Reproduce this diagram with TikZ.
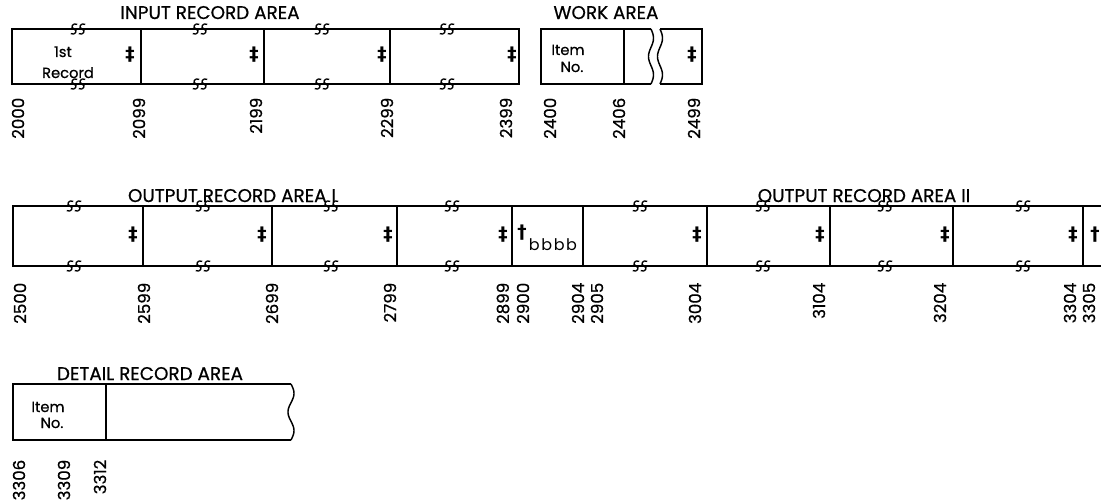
\documentclass[tikz,border=0pt]{standalone}
\usepackage{fontspec}
\setmainfont{Poppins}
\newfontfamily\medf{Poppins}[FakeBold=0.6]
\newfontfamily\symf{DejaVu Sans}
\tikzset{
  brkmark/.pic={
    \foreach \o in {-4,4}
      \draw[line width=1pt] (\o+3.2,-4.6) .. controls (\o-0.8,-6.8) and (\o-4.5,-1.5) .. (\o,0)
                             .. controls (\o+4.5,1.5) and (\o+0.8,6.8) .. (\o-3.2,4.6);
  }
}
\begin{document}
\begin{tikzpicture}[x=0.75pt,y=-0.75pt,line width=1.1pt,
  ttl/.style={font=\medf\fontsize{13.8}{16}\selectfont,inner sep=0pt,anchor=base},
  num/.style={rotate=90,anchor=east,font=\medf\fontsize{12.5}{15}\selectfont,inner sep=0pt},
  txt/.style={font=\medf\fontsize{11}{13}\selectfont,inner sep=0pt,anchor=base},
  dd/.style={font=\symf\bfseries\fontsize{14}{16}\selectfont,inner sep=0pt}]
\useasboundingbox (0,0) rectangle (1101,503);

% ---------- Row 1: input record area ----------
\draw (12,29) rectangle (519,84);
\foreach \p in {141,264,390} \draw (\p,29) -- (\p,84);
\foreach \p in {78,200,322,447} {\pic at (\p,29) {brkmark}; \pic at (\p,84) {brkmark};}
% work area
\draw (651,29) -- (541,29) -- (541,84) -- (651,84);
\draw (624,29) -- (624,84);
\draw plot[domain=0:55,samples=60,smooth,variable=\t] ({651+2.5*sin(\t*9.818)},{29+\t});
\draw plot[domain=0:55,samples=60,smooth,variable=\t] ({660+2.5*sin(\t*9.818)},{29+\t});
\draw (660,29) -- (702,29) -- (702,84) -- (660,84);

\node[ttl] (t1) at (210,19) {INPUT RECORD AREA};
\node[ttl] (t2) at (606,19) {WORK AREA};
\node[txt] (r1a) at (63,57) {1st};
\node[txt] (r1b) at (68,78) {Record};
\node[txt] (w1a) at (568,55) {Item};
\node[txt] (w1b) at (572,72) {No.};
\foreach \p/\n in {130/a,254/b,382/c,512/d,692/e} \node[dd] (d1\n) at (\p,55) {‡};

\foreach \p/\v in {18/2000,139/2099,256/2199,387/2299,506/2399,550/2400,619/2406,694/2499}
  \node[num] (n\v) at (\p,97) {\v};

% ---------- Row 2: output record areas ----------
\draw (1101,206) -- (13,206) -- (13,266) -- (1101,266);
\foreach \p in {143,272,397,512,583,707,830,953,1083} \draw (\p,206) -- (\p,266);
\foreach \p in {74,203,331,452,640,763,885,1023} {\pic at (\p,206) {brkmark}; \pic at (\p,266) {brkmark};}

\node[ttl] (t3) at (232,202) {OUTPUT RECORD AREA I};
\node[ttl] (t4) at (864,202) {OUTPUT RECORD AREA II};
\foreach \p/\n in {133/a,262/b,388/c,503/d,697/e,820/f,945/g,1073/h} \node[dd] (d2\n) at (\p,235) {‡};
\node[dd] (s1) at (522,233) {†};
\node[font=\fontsize{12}{14}\selectfont,inner sep=0pt,anchor=base] (bb) at (553,250) {b\kern1.2pt b\kern1.2pt b\kern1.2pt b};
\node[dd] (s2) at (1095,235) {†};

\foreach \p/\v in {20/2500,144/2599,272/2699,390/2799,503/2899,523/2900,578/2904,597/2905,695/3004,819/3104,940/3204,1070/3304,1089/3305}
  \node[num] (n\v) at (\p,282) {\v};

% ---------- Row 3: detail record area ----------
\draw (291,384) -- (13,384) -- (13,440) -- (291,440);
\draw (106,384) -- (106,440);
\draw plot[domain=0:56,samples=60,smooth,variable=\t] ({291+3*sin(\t*9.643)},{384+\t});
\node[ttl] (t5) at (150,380) {DETAIL RECORD AREA};
\node[txt] (d3a) at (48,412) {Item};
\node[txt] (d3b) at (52,428) {No.};
\foreach \p/\v in {19/3306,64/3309,100/3312}
  \node[num] (n\v) at (\p,459) {\v};
\end{tikzpicture}
\end{document}
